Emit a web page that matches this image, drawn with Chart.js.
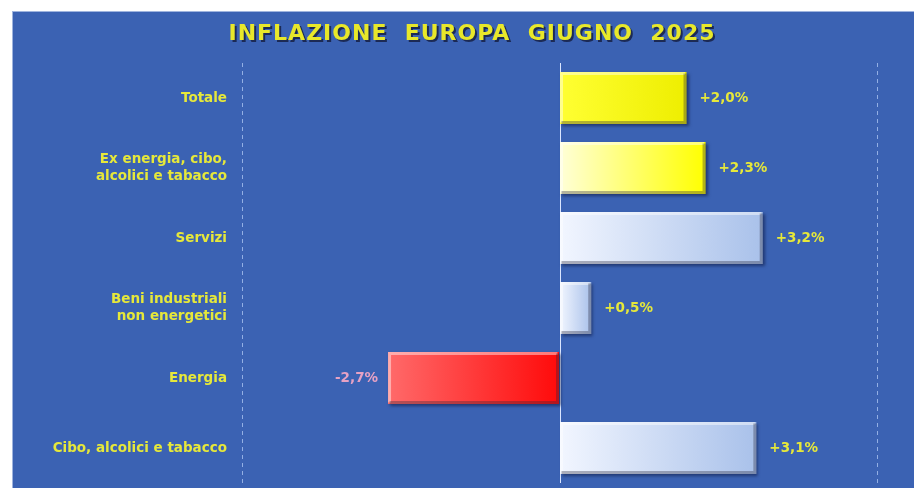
<!DOCTYPE html>
<html>
<head>
<meta charset="utf-8">
<script src="https://cdn.jsdelivr.net/npm/chart.js@4"></script>
<style>
  html, body { margin: 0; padding: 0; background: #fff; }
  #panel {
    position: absolute; left: 12px; top: 11px; width: 902px; height: 477px;
    background: #3b62b3; border-top: 1px solid #9fb4de; border-left: 1px solid #9fb4de;
    box-sizing: border-box;
  }
  #chart { display: block; }
</style>
</head>
<body>
<div id="panel"><canvas id="chart" width="901" height="476"></canvas></div>
<script>
const title = "INFLAZIONE  EUROPA  GIUGNO  2025"
const categories = [
    "Totale",
    ["Ex energia, cibo,", "alcolici e tabacco"],
    "Servizi",
    ["Beni industriali", "non energetici"],
    "Energia",
    "Cibo, alcolici e tabacco"
]
const values = [2.0, 2.3, 3.2, 0.5, -2.7, 3.1]
const valueLabels = ["+2,0%", "+2,3%", "+3,2%", "+0,5%", "-2,7%", "+3,1%"]
// colour scheme of each bar: left colour -> right colour
const barStops = [
    ["#ffff33", "#eeee00"],
    ["#ffffd8", "#ffff00"],
    ["#f2f6ff", "#a9c1ea"],
    ["#f2f6ff", "#a9c1ea"],
    ["#ff6a6a", "#ff0a0a"],
    ["#f2f6ff", "#a9c1ea"]
]

const yellow = "#e6e83a"
const font = "'DejaVu Sans', Verdana, sans-serif"

const barFill = function (ctx) {
    const chart = ctx.chart
    if (!chart.chartArea || ctx.parsed == null) return "#ccc"
    const sx = chart.scales.x
    const a = sx.getPixelForValue(Math.min(0, ctx.parsed.x))
    const b = sx.getPixelForValue(Math.max(0, ctx.parsed.x))
    const g = chart.ctx.createLinearGradient(a, 0, b, 0)
    g.addColorStop(0, barStops[ctx.dataIndex][0])
    g.addColorStop(1, barStops[ctx.dataIndex][1])
    return g
}

// title, zero line, bevels and value labels
const decor = {
    id: "decor",
    beforeDatasetsDraw(chart) {
        const c = chart.ctx
        const area = chart.chartArea
        const x0 = chart.scales.x.getPixelForValue(0)
        c.save()
        c.strokeStyle = "#dbe6ff"
        c.lineWidth = 1
        c.beginPath()
        c.moveTo(Math.round(x0) + 0.5, area.top)
        c.lineTo(Math.round(x0) + 0.5, area.bottom)
        c.stroke()
        c.restore()
    },
    beforeDatasetDraw(chart) {
        const c = chart.ctx
        c.save()
        c.shadowColor = "rgba(10,20,60,0.55)"
        c.shadowOffsetX = 2
        c.shadowOffsetY = 2
        c.shadowBlur = 3
    },
    afterDatasetDraw(chart) {
        chart.ctx.restore()
    },
    afterDatasetsDraw(chart) {
        const c = chart.ctx
        const meta = chart.getDatasetMeta(0)
        c.save()
        meta.data.forEach((bar, i) => {
            const left = Math.min(bar.x, bar.base)
            const right = Math.max(bar.x, bar.base)
            const top = bar.y - bar.height / 2
            const bottom = bar.y + bar.height / 2
            // bevel: light top/left, dark bottom/right
            c.lineWidth = 3
            c.strokeStyle = "rgba(255,255,255,0.45)"
            c.beginPath()
            c.moveTo(left + 1.5, bottom - 1.5)
            c.lineTo(left + 1.5, top + 1.5)
            c.lineTo(right - 1.5, top + 1.5)
            c.stroke()
            c.strokeStyle = "rgba(40,40,60,0.35)"
            c.beginPath()
            c.moveTo(right - 1.5, top + 1.5)
            c.lineTo(right - 1.5, bottom - 1.5)
            c.lineTo(left + 1.5, bottom - 1.5)
            c.stroke()

            c.font = "bold 13.5px " + font
            c.textBaseline = "middle"
            if (values[i] < 0) {
                c.fillStyle = "#e7a2c4"
                c.textAlign = "right"
                c.fillText(valueLabels[i], left - 10, bar.y)
            } else {
                c.fillStyle = yellow
                c.textAlign = "left"
                c.fillText(valueLabels[i], right + 13, bar.y)
            }
        })
        c.restore()

        // title
        c.save()
        c.font = "bold 22px " + font
        c.letterSpacing = "1px"
        c.textAlign = "center"
        c.textBaseline = "middle"
        c.fillStyle = "#1c2a55"
        c.fillText(title, 461, 24)
        c.fillStyle = "#e8e82a"
        c.fillText(title, 459, 22)
        c.restore()
    }
}

const chart = new Chart("chart", {
    type: "bar",
    data: {
        labels: categories,
        datasets: [{
            data: values,
            backgroundColor: barFill,
            borderWidth: 0,
            barPercentage: 0.86,
            categoryPercentage: 0.86
        }]
    },
    options: {
        indexAxis: "y",
        responsive: false,
        animation: false,
        layout: { autoPadding: false, padding: { top: 51, right: 37, bottom: 5, left: 0 } },
        plugins: {
            legend: { display: false },
            tooltip: { enabled: false }
        },
        scales: {
            x: {
                min: -5,
                max: 5,
                ticks: { display: false, stepSize: 5 },
                grid: {
                    drawTicks: false,
                    color: (ctx) => ctx.tick && ctx.tick.value === 0 ? "rgba(0,0,0,0)" : "rgba(170,195,240,0.8)",
                    lineWidth: 1
                },
                border: { display: false, dash: [4, 4] },
                afterFit: (s) => { s.height = 0 }
            },
            y: {
                grid: { display: false },
                border: { display: false },
                ticks: {
                    color: yellow,
                    padding: 7,
                    font: { family: font, weight: "bold", size: 13.5, lineHeight: 1.25 }
                },
                afterFit: (s) => {
                    s.width = 229
                    s.paddingTop = 0
                    s.paddingBottom = 0
                }
            }
        }
    },
    plugins: [decor]
})
</script>
</body>
</html>
